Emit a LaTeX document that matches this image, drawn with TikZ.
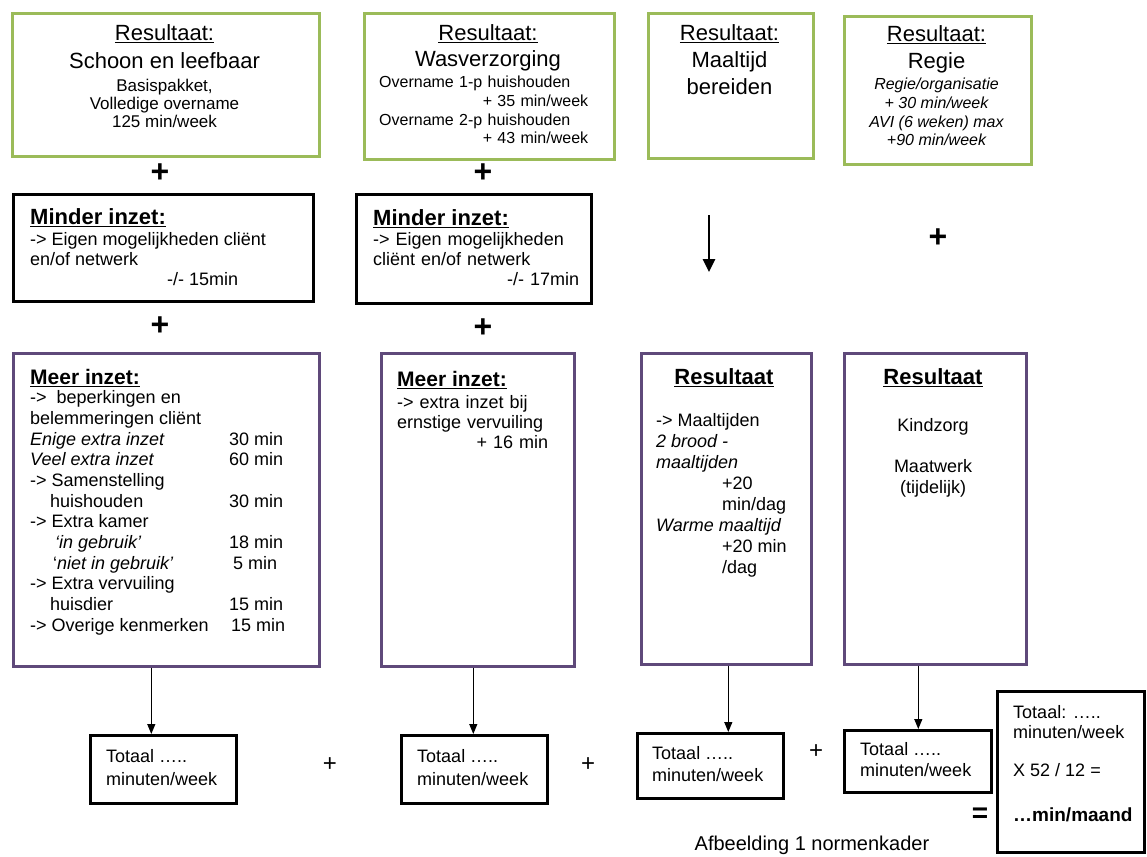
\documentclass[tikz,border=0pt]{standalone}
\usepackage{fontspec}
\setmainfont{Liberation Sans}
\usepackage{xcolor}
\usetikzlibrary{arrows.meta}

\definecolor{resgreen}{RGB}{155,187,89}
\definecolor{meerpurple}{RGB}{95,73,122}
\newcommand{\fsz}[2]{\fontsize{#1}{#2}\selectfont}

\begin{document}
\begin{tikzpicture}[x=1pt,y=1pt,yscale=-1,xscale=1,
    box/.style={inner sep=0pt, line width=2.6pt, anchor=north west},
    resbox/.style={box, draw=resgreen},
    blackbox/.style={box, draw=black},
    meerbox/.style={box, draw=meerpurple},
    ltxt/.style={inner sep=0pt, anchor=north west, align=left},
    ctxt/.style={inner sep=0pt, anchor=north, align=center},
    bigplus/.style={inner sep=0pt, font=\fsz{32}{32}\bfseries},
    smallplus/.style={inner sep=0pt, font=\fsz{24}{24}},
    arr/.style={-{Triangle[length=10pt,width=8pt]}, line width=1.2pt},
    bigarr/.style={-{Triangle[length=13pt,width=12pt]}, line width=2.6pt}]

    \useasboundingbox (0,0) rectangle (1147,856);

    % resultaten (groen)
    \node[resbox, minimum width=307, minimum height=143] (res1) at (11,12) {};
    \node[resbox, minimum width=250, minimum height=146] (res2) at (363,12) {};
    \node[resbox, minimum width=165, minimum height=145] (res3) at (647,12) {};
    \node[resbox, minimum width=187, minimum height=148] (res4) at (843,15) {};

    \node[ctxt, font=\fsz{22}{28}] (res1t) at (164.5,24) {\underline{Resultaat:}\\Schoon en leefbaar};
    \node[ctxt, font=\fsz{17}{18}] (res1d) at (164.5,79) {Basispakket,\\Volledige overname\\125 min/week};
    \node[ctxt, font=\fsz{22}{26}] (res2t) at (488,24) {\underline{Resultaat:}\\Wasverzorging};
    \node[ltxt, text width=209, font=\fsz{16}{18.7}] (res2d) at (379,76) {Overname 1-p huishouden\\\hfill + 35 min/week\\Overname 2-p huishouden\\\hfill + 43 min/week};
    \node[ctxt, font=\fsz{22}{27}] (res3t) at (729.5,24) {\underline{Resultaat:}\\Maaltijd\\bereiden};
    \node[ctxt, font=\fsz{22}{27}] (res4t) at (936.5,25) {\underline{Resultaat:}\\Regie};
    \node[ctxt, font=\fsz{16}{18.7}\itshape] (res4d) at (936.5,78) {Regie/organisatie\\+ 30 min/week\\AVI (6 weken) max\\+90 min/week};

    \node[bigplus] (plus1) at (160,173) {+};
    \node[bigplus] (plus2) at (483,173) {+};

    % minder inzet
    \node[blackbox, minimum width=300, minimum height=107] (minder1) at (12,193) {};
    \node[blackbox, minimum width=235, minimum height=109] (minder2) at (355,193) {};

    \node[ltxt, font=\fsz{22}{24}\bfseries] (minder1t) at (30,208) {\underline{Minder inzet:}};
    \node[ltxt, font=\fsz{18}{20}] (minder1d) at (30,232.5) {-> Eigen mogelijkheden cliënt\\en/of netwerk\\\hspace*{137pt}-/- 15min};
    \node[ltxt, font=\fsz{22}{24}\bfseries] (minder2t) at (373,209) {\underline{Minder inzet:}};
    \node[ltxt, text width=206, font=\fsz{18}{20}] (minder2d) at (373,232.5) {-> Eigen mogelijkheden\\cliënt en/of netwerk\\\hfill -/- 17min};

    \coordinate (pijlA) at (709,215);
    \coordinate (pijlB) at (709,272);
    \draw[bigarr] (pijlA) -- (pijlB);

    \node[bigplus] (plus3) at (938,238) {+};
    \node[bigplus] (plus4) at (160,326) {+};
    \node[bigplus] (plus5) at (483,328) {+};

    % meer inzet / resultaat (paars)
    \node[meerbox, minimum width=306, minimum height=313] (meer1) at (12,352) {};
    \node[meerbox, minimum width=193, minimum height=313] (meer2) at (380,352) {};
    \node[meerbox, minimum width=170, minimum height=311] (meer3) at (640,352) {};
    \node[meerbox, minimum width=182, minimum height=311] (meer4) at (843,352) {};

    \node[ltxt, font=\fsz{21}{24}\bfseries] (meer1t) at (30,369.5) {\underline{Meer inzet:}};
    \node[inner sep=0pt, anchor=north west, font=\fsz{18}{20.7}] (meer1d) at (30,389) {%
      \begin{tabular}{@{}p{199pt}@{}l@{}}
        ->\ \ beperkingen en & \\
        belemmeringen cliënt & \\
        \textit{Enige extra inzet} & 30 min \\
        \textit{Veel extra inzet} & 60 min \\
        -> Samenstelling & \\
        \hspace*{20pt}huishouden & 30 min \\
        -> Extra kamer & \\
        \hspace*{25pt}\textit{`in gebruik'} & 18 min \\
        \hspace*{23pt}`\textit{niet in gebruik'} & \hspace*{4pt}5 min \\
        -> Extra vervuiling & \\
        \hspace*{20pt}huisdier & 15 min \\
        -> Overige kenmerken & \hspace*{2pt}15 min
      \end{tabular}};

    \node[ltxt, font=\fsz{21}{24}\bfseries] (meer2t) at (397,371.5) {\underline{Meer inzet:}};
    \node[ltxt, text width=151, font=\fsz{18}{20}] (meer2d) at (397,395.5) {-> extra inzet bij\\ernstige vervuiling\\\hfill + 16 min};

    \node[ctxt, font=\fsz{22}{24}\bfseries] (meer3t) at (724,368) {\underline{Resultaat}};
    \node[ltxt, font=\fsz{18}{21}] (meer3d) at (656,413.5) {-> Maaltijden\\\textit{2 brood -}\\\textit{maaltijden}\\\hspace*{66pt}+20\\\hspace*{66pt}min/dag\\\textit{Warme maaltijd}\\\hspace*{66pt}+20 min\\\hspace*{66pt}/dag};

    \node[ctxt, font=\fsz{22}{24}\bfseries] (meer4t) at (933,368) {\underline{Resultaat}};
    \node[ctxt, font=\fsz{18}{21}] (meer4d) at (933,418.5) {Kindzorg\\[20pt]Maatwerk\\(tijdelijk)};

    % totalen
    \node[blackbox, minimum width=146, minimum height=68] (tot1) at (89,734) {};
    \node[blackbox, minimum width=146, minimum height=68] (tot2) at (400,734) {};
    \node[blackbox, minimum width=146, minimum height=65] (tot3) at (636,732) {};
    \node[blackbox, minimum width=147, minimum height=62] (tot4) at (843,729) {};
    \node[blackbox, minimum width=147, minimum height=161] (eind) at (996,690) {};

    \node[ltxt, font=\fsz{18}{23}] (tot1t) at (106,749.5) {Totaal …..\\minuten/week};
    \node[ltxt, font=\fsz{18}{23}] (tot2t) at (417,749.5) {Totaal …..\\minuten/week};
    \node[ltxt, font=\fsz{18}{22}] (tot3t) at (652,746.5) {Totaal …..\\minuten/week};
    \node[ltxt, font=\fsz{18}{21}] (tot4t) at (860,742.5) {Totaal …..\\minuten/week};
    \node[ltxt, font=\fsz{18}{20}] (eindt) at (1013,705.5) {Totaal: …..\\minuten/week\\[18pt]X 52 / 12 =};
    \node[ltxt, font=\fsz{19}{20}\bfseries] (eindm) at (1013,808) {…min/maand};

    \draw[arr] ([xshift=-15pt]meer1.south) -- ([xshift=-12pt]tot1.north);
    \draw[arr] ([xshift=-4.5pt]meer2.south) -- ([xshift=-1pt]tot2.north);
    \draw[arr] ([xshift=2pt]meer3.south) -- ([xshift=18pt]tot3.north);
    \draw[arr] ([xshift=-17pt]meer4.south) -- ([xshift=0.5pt]tot4.north);

    \node[smallplus] (plus6) at (330,765) {+};
    \node[smallplus] (plus7) at (588,765) {+};
    \node[smallplus] (plus8) at (816,752) {+};
    \node[inner sep=0pt, font=\fsz{28}{28}\bfseries] (gelijk) at (980,815) {=};

    \node[inner sep=0pt, font=\fsz{20}{22}] (bijschrift) at (812,845) {Afbeelding 1 normenkader};
\end{tikzpicture}
\end{document}
